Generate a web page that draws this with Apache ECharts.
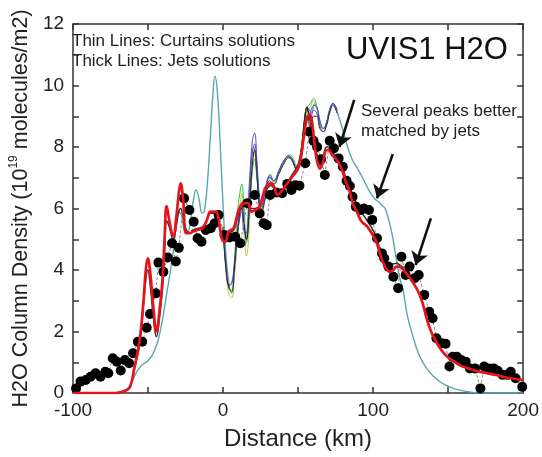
<!DOCTYPE html>
<html>
<head>
<meta charset="utf-8">
<script src="https://cdn.jsdelivr.net/npm/echarts@6/dist/echarts.min.js"></script>
<style>
  html, body { margin: 0; padding: 0; background: #fff; }
  #chart { width: 542px; height: 457px; }
</style>
</head>
<body>
<div id="chart"></div>
<script>
// observed UVIS1 H2O column density (dots)
const obsX = [-98, -95, -91.5, -88.3, -85, -81.7, -78.5, -76.5, -73.5, -70.8, -68.2, -65.4, -62.6, -60, -56.8, -53.9, -50.9, -48.7, -44.8, -43.1, -39.8, -36.9, -34, -31.5, -29.5, -26, -22.4, -19.6, -17, -14.4, -11.5, -8.2, -5.6, -3, 0.9, 4.3, 8.1, 11.5, 16.1, 21.1, 24.4, 27, 29.1, 31.3, 35.5, 39.3, 42.8, 45.6, 48.2, 50.9, 54.8, 57.5, 60.3, 62.7, 65.3, 67.8, 71.1, 73.9, 77, 79.8, 82.3, 84.5, 86.3, 88.5, 91.7, 93.9, 97.2, 99.4, 102.6, 105.9, 107.4, 110.2, 113.5, 116.7, 118.9, 121.7, 124.3, 127.6, 130.4, 134.1, 137.4, 139.6, 142.2, 145.7, 148.3, 150.9, 153, 155.8, 158.7, 161.7, 164.5, 167.9, 171.5, 174, 177.2, 180.4, 183, 186.3, 189.6, 191.7, 195, 199.4];
const obsY = [0.15, 0.37, 0.42, 0.53, 0.64, 0.53, 0.69, 0.64, 1.13, 1.02, 0.73, 1.07, 0.97, 1.29, 1.67, 1.67, 2.12, 2.57, 3.24, 4.24, 3.94, 4.41, 4.87, 4.28, 4.72, 6.33, 5.95, 5.57, 5.03, 4.92, 5.3, 5.36, 5.52, 5.79, 5.14, 5.06, 5.08, 4.87, 6.17, 6.44, 5.84, 5.52, 5.46, 6.44, 6.52, 6.5, 6.8, 6.6, 6.76, 6.74, 7.47, 8.5, 8.2, 8.0, 7.6, 7.09, 8.2, 7.96, 7.63, 7.36, 6.9, 6.73, 6.38, 6.06, 5.95, 6.0, 5.95, 5.63, 5.03, 4.54, 4.38, 4.11, 3.78, 3.41, 4.43, 3.84, 4.11, 3.73, 3.84, 3.19, 2.64, 2.43, 1.78, 1.62, 1.6, 0.86, 1.18, 1.18, 1.07, 1.02, 0.8, 0.8, 0.15, 0.86, 0.8, 0.8, 0.72, 0.59, 0.59, 0.69, 0.48, 0.2];

// curtains solution (thin teal, full range)
const curtX = [-100, -70, -66, -62, -59, -56, -53, -50, -47, -44, -41.5, -39, -37, -35, -33, -31, -29.7, -28, -26, -24, -22, -20, -18, -16, -14, -12.5, -10.5, -8.5, -6.8, -5.4, -4, -2.5, -0.5, 1.5, 3.5, 5.8, 7.5, 9.5, 11.5, 13, 14.8, 16.5, 18.5, 20.5, 22.5, 24, 25.5, 27.5, 30, 31.5, 33.5, 35.5, 38, 41, 43.5, 46, 48, 50, 52, 54.5, 57, 59, 61, 63, 65, 67, 69, 71, 73.3, 75.5, 78.5, 81, 83, 86, 89.6, 93, 96, 99, 101.5, 104, 106, 108, 110, 112.5, 115, 117.5, 120, 122.5, 125, 128, 131, 135, 140, 145, 150, 157, 165, 172, 200];
const curtY = [0, 0, 0.05, 0.25, 0.55, 0.8, 0.95, 1.05, 1.25, 1.6, 2.1, 2.8, 3.4, 4.0, 4.7, 5.5, 5.9, 5.8, 5.35, 5.19, 5.5, 6.2, 6.6, 6.3, 5.85, 5.9, 6.8, 8.3, 9.7, 10.3, 9.9, 8.7, 6.6, 4.8, 3.7, 3.24, 3.9, 5.0, 6.0, 6.0, 4.8, 5.6, 7.3, 8.0, 7.2, 6.4, 6.06, 6.5, 7.0, 7.1, 6.9, 7.0, 7.3, 7.55, 7.7, 7.6, 7.4, 7.3, 7.8, 8.9, 9.25, 9.1, 9.4, 9.2, 8.75, 8.6, 8.8, 9.2, 9.42, 9.2, 8.77, 8.35, 8.0, 7.6, 7.3, 7.0, 6.7, 6.45, 6.3, 6.2, 6.1, 6.0, 5.7, 5.2, 4.5, 3.8, 3.35, 2.6, 2.1, 1.6, 1.2, 0.85, 0.55, 0.35, 0.22, 0.1, 0.03, 0, 0];

// other curtains solutions differ only between 0 and 76 km
const varX = [0, 2, 4, 5.8, 7.5, 9.5, 11.5, 12.5, 13.8, 15.6, 17.5, 19.5, 21, 22.5, 24, 25.5, 28, 31, 34, 37, 41, 44, 46, 49, 52, 54.5, 56, 58, 60.4, 62.5, 64.5, 66.8, 69, 71, 73.3, 76];
const blueY = [5.4, 4.2, 3.5, 3.6, 4.2, 5.2, 5.8, 5.9, 5.3, 5.2, 6.8, 8.2, 8.45, 7.6, 6.5, 6.1, 6.5, 7.05, 6.9, 7.2, 7.6, 7.7, 7.6, 7.3, 7.6, 8.6, 9.0, 9.1, 9.35, 9.3, 8.85, 8.6, 8.8, 9.2, 9.42, 9.2];
const greenY = [5.4, 4.0, 3.4, 3.35, 4.3, 5.8, 6.6, 6.8, 6.2, 4.9, 5.8, 7.2, 7.6, 7.0, 6.3, 6.0, 6.4, 7.0, 6.9, 7.2, 7.55, 7.75, 7.7, 7.4, 7.9, 9.0, 9.3, 9.4, 9.58, 9.3, 8.8, 8.6, 8.8, 9.2, 9.42, 9.2];
const yellowY = [5.5, 3.9, 3.2, 3.1, 3.8, 5.0, 6.2, 6.5, 5.6, 4.45, 5.4, 7.4, 7.9, 7.2, 6.2, 5.8, 6.3, 7.0, 6.85, 7.15, 7.5, 7.7, 7.6, 7.35, 7.8, 8.9, 9.2, 9.3, 9.5, 9.3, 8.8, 8.6, 8.8, 9.2, 9.42, 9.2];
const purpleY = [5.4, 4.1, 3.5, 3.55, 4.1, 5.1, 5.8, 6.0, 5.5, 5.0, 6.3, 7.8, 8.1, 7.4, 6.3, 6.0, 6.4, 7.0, 6.9, 7.2, 7.6, 7.7, 7.6, 7.3, 7.6, 8.7, 9.0, 8.9, 9.2, 9.1, 8.7, 8.5, 8.75, 9.15, 9.4, 9.2];
const darkY = [5.3, 4.0, 3.4, 3.3, 4.0, 5.2, 6.0, 6.2, 5.6, 5.0, 6.0, 7.4, 7.9, 7.1, 6.1, 5.9, 6.3, 6.9, 6.8, 7.1, 7.5, 7.65, 7.55, 7.25, 7.9, 9.0, 9.3, 8.6, 9.0, 9.0, 8.6, 8.5, 8.7, 9.1, 9.35, 9.1];

// jets solutions (thick)
const jetX = [-100, -72, -68.7, -65, -62, -59, -55.6, -53, -51.5, -50.2, -48.5, -46.5, -44.4, -42.5, -40.4, -39, -37.6, -35.8, -33.3, -31, -29.5, -28.3, -26.5, -24.5, -22, -20.2, -17, -13.7, -11, -8.2, -5, -2.5, -0.7, 1.5, 3.7, 7, 9, 11.3, 14.6, 16.7, 18.9, 21.5, 24.4, 27, 28.7, 31.9, 34, 36.3, 39.5, 42.8, 46.1, 50.5, 53.7, 55.9, 57.5, 59, 60.5, 62.4, 64.6, 66.5, 68.9, 70.5, 72.5, 75.4, 78.7, 81.9, 84.1, 86.3, 89.6, 92, 96.1, 100.4, 102.6, 104.8, 108, 111.3, 113.5, 115.7, 118, 121.1, 124, 126.5, 130, 133, 135, 137.4, 140, 143.9, 148, 152.6, 158, 163.5, 170, 176.5, 185, 191.7, 200];
const jetRedY = [0, 0, 0.02, 0.08, 0.2, 0.86, 1.72, 3.02, 4.0, 4.38, 3.9, 2.8, 2.0, 2.6, 3.67, 5.0, 6.08, 5.6, 5.1, 5.8, 6.5, 6.82, 6.2, 5.2, 5.2, 5.25, 5.3, 5.36, 5.6, 5.9, 5.9, 5.5, 5.0, 4.92, 5.25, 5.36, 5.7, 6.06, 6.17, 6.17, 5.9, 5.95, 6.06, 6.5, 6.71, 6.82, 6.7, 6.45, 6.6, 6.82, 7.03, 7.36, 8.3, 8.93, 9.05, 8.9, 8.3, 7.6, 7.3, 7.5, 7.9, 7.9, 7.75, 7.6, 7.33, 6.85, 6.6, 6.2, 5.85, 5.6, 5.41, 5.08, 4.85, 4.49, 4.11, 3.94, 4.0, 4.11, 4.1, 3.95, 3.78, 3.6, 3.3, 2.92, 2.55, 2.16, 1.85, 1.51, 1.25, 1.07, 0.9, 0.8, 0.7, 0.64, 0.55, 0.48, 0.42];
const jetBlackY = [0, 0, 0.02, 0.06, 0.2, 0.8, 1.6, 2.9, 3.7, 4.0, 3.5, 2.5, 1.83, 2.4, 3.4, 4.6, 5.6, 5.4, 5.0, 5.5, 5.9, 6.0, 5.7, 5.3, 5.2, 5.3, 5.35, 5.4, 5.6, 5.85, 5.85, 5.5, 5.05, 4.95, 5.2, 5.3, 5.6, 5.95, 6.1, 6.2, 6.0, 6.0, 6.1, 6.45, 6.6, 6.75, 6.65, 6.5, 6.6, 6.85, 7.1, 7.5, 8.5, 9.3, 9.0, 8.6, 8.3, 7.8, 7.4, 7.6, 8.0, 8.0, 7.85, 7.7, 7.45, 7.0, 6.75, 6.45, 6.1, 5.9, 5.6, 5.25, 4.95, 4.7, 4.4, 4.16, 4.2, 4.22, 4.15, 4.05, 3.85, 3.6, 3.3, 2.92, 2.55, 2.16, 1.85, 1.51, 1.25, 1.07, 0.9, 0.8, 0.7, 0.64, 0.55, 0.48, 0.42];

// annotation arrows, [fromX, fromY, toX, toY] in data units
const arrows = [
  [87.4, 9.53, 77.6, 8.0],
  [113.1, 7.77, 102.6, 6.33],
  [138.5, 5.68, 128.3, 4.16]
];

const xTicks = [-100, 200, 100];
const yTicks = [0, 12, 2];

const FONT = "'Liberation Sans', Arial, sans-serif";
const AXIS = '#333';

function pairs(xs, ys) {
  return xs.map((x, i) => [x, ys[i]]);
}

function thin(name, xs, ys, color, width) {
  return {
    name: name, type: 'line', data: pairs(xs, ys), smooth: 0.45,
    showSymbol: false, silent: true, z: 2,
    lineStyle: { color: color, width: width || 1 }
  };
}

const chart = echarts.init(document.getElementById('chart'));

const axisBase = {
  type: 'value',
  axisLine: { show: true, onZero: false, lineStyle: { color: AXIS, width: 1.5 } },
  axisTick: { show: true, inside: true, length: 6, lineStyle: { color: AXIS, width: 1.5 } },
  minorTick: { show: true, splitNumber: 2, length: 6, lineStyle: { color: AXIS, width: 1.5 } },
  splitLine: { show: false },
  minorSplitLine: { show: false }
};

const option = {
  animation: false,
  backgroundColor: '#fff',
  textStyle: { fontFamily: FONT },
  grid: { left: 66, right: 16, top: 24, bottom: 64 },
  xAxis: [
    Object.assign({}, axisBase, {
      min: xTicks[0], max: xTicks[1], interval: xTicks[2], position: 'bottom',
      axisLabel: { color: '#222', fontSize: 19, margin: 8, fontFamily: FONT },
      name: 'Distance (km)', nameLocation: 'middle', nameGap: 34,
      nameTextStyle: { color: '#222', fontSize: 24, fontFamily: FONT }
    }),
    Object.assign({}, axisBase, {
      min: xTicks[0], max: xTicks[1], interval: xTicks[2], position: 'top',
      axisLabel: { show: false }
    })
  ],
  yAxis: [
    Object.assign({}, axisBase, {
      min: yTicks[0], max: yTicks[1], interval: yTicks[2], position: 'left',
      axisLabel: { color: '#222', fontSize: 19, margin: 9, fontFamily: FONT },
      name: '{a|H2O Column Density (10}{s|19}{a| molecules/m2)}',
      nameLocation: 'middle', nameGap: 36, nameRotate: 90,
      nameTextStyle: {
        color: '#222', fontFamily: FONT,
        rich: {
          a: { fontSize: 21.5, color: '#222', fontFamily: FONT, lineHeight: 26 },
          s: { fontSize: 12, color: '#222', fontFamily: FONT, verticalAlign: 'top', lineHeight: 26 }
        }
      }
    }),
    Object.assign({}, axisBase, {
      min: yTicks[0], max: yTicks[1], interval: yTicks[2], position: 'right',
      axisLabel: { show: false }
    })
  ],
  series: [
    thin('curtains teal', curtX, curtY, '#5aa8ac', 1.4),
    thin('curtains yellow', varX, yellowY, '#c8c23a'),
    thin('curtains green', varX, greenY, '#3cc23c'),
    thin('curtains purple', varX, purpleY, '#8a3fb0'),
    thin('curtains blue', varX, blueY, '#4a4ae0'),
    thin('curtains dark', varX, darkY, '#2a2a2a'),
    {
      name: 'observed', type: 'line', data: pairs(obsX, obsY), z: 4,
      symbol: 'circle', symbolSize: 10, showSymbol: true, silent: true,
      itemStyle: { color: '#000' },
      lineStyle: { color: '#8a8a8a', width: 1, type: [3, 2] }
    },
    {
      name: 'jets black', type: 'line', data: pairs(jetX, jetBlackY), smooth: 0.45,
      showSymbol: false, silent: true, z: 3,
      lineStyle: { color: '#333', width: 1.6 }
    },
    {
      name: 'jets red', type: 'line', data: pairs(jetX, jetRedY), smooth: 0.45,
      showSymbol: false, silent: true, z: 5,
      lineStyle: { color: '#e8141c', width: 2.7 },
      markLine: {
        silent: true, animation: false,
        symbol: ['none', 'arrow'], symbolSize: 13,
        label: { show: false },
        lineStyle: { color: '#111', width: 2.6, type: 'solid' },
        data: arrows.map(a => [{ coord: [a[0], a[1]] }, { coord: [a[2], a[3]] }])
      }
    }
  ],
  graphic: [
    { type: 'text', left: 72, top: 33, style: { text: 'Thin Lines: Curtains solutions', font: '17px ' + FONT, fill: '#222' } },
    { type: 'text', left: 72, top: 53, style: { text: 'Thick Lines: Jets solutions', font: '17px ' + FONT, fill: '#222' } },
    { type: 'text', left: 346, top: 35, style: { text: 'UVIS1 H2O', font: '31px ' + FONT, fill: '#111' } },
    { type: 'text', left: 361, top: 103, style: { text: 'Several peaks better', font: '17px ' + FONT, fill: '#222' } },
    { type: 'text', left: 361, top: 123, style: { text: 'matched by jets', font: '17px ' + FONT, fill: '#222' } }
  ]
};

chart.setOption(option);
</script>
</body>
</html>
